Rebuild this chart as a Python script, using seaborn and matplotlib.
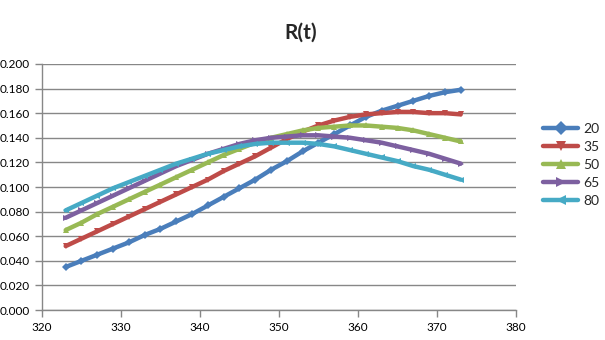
import matplotlib
matplotlib.use("Agg")
import matplotlib.pyplot as plt
import seaborn as sns
import pandas as pd

T = [323, 325, 327, 329, 331, 333, 335, 337, 339, 341, 343, 345, 347,
     349, 351, 353, 355, 357, 359, 361, 363, 365, 367, 369, 371, 373]

r20 = [.035, .040, .045, .050, .055, .061, .066, .072, .078, .085, .092, .099, .106,
       .114, .121, .129, .136, .143, .150, .157, .162, .166, .170, .174, .177, .179]
r35 = [.052, .058, .064, .070, .076, .082, .088, .094, .100, .106, .113, .119, .125,
       .132, .139, .145, .150, .154, .157, .159, .160, .161, .161, .160, .160, .159]
r50 = [.065, .071, .078, .084, .090, .096, .102, .108, .114, .120, .126, .131, .136,
       .140, .143, .146, .148, .149, .150, .150, .149, .148, .146, .143, .140, .137]
r65 = [.075, .081, .087, .093, .099, .105, .111, .117, .122, .127, .131, .135, .138,
       .140, .141, .142, .142, .141, .140, .138, .136, .133, .130, .127, .123, .119]
r80 = [.081, .087, .093, .099, .104, .109, .114, .119, .123, .127, .130, .133, .135,
       .136, .136, .136, .135, .133, .130, .127, .124, .121, .117, .114, .110, .106]

series_names = ["20", "35", "50", "65", "80"]
series_vals = [r20, r35, r50, r65, r80]
colors = ["#4A7EBB", "#BE4B48", "#98B954", "#7D60A0", "#46AAC5"]
marks = ["D", "v", "^", ">", "<"]

rows = []
for name, vals in zip(series_names, series_vals):
    for t, v in zip(T, vals):
        rows.append({"T": t, "R": v, "series": name})
df = pd.DataFrame(rows)

sns.set_theme(style="white")
plt.rcParams['font.family'] = ['Lato', 'DejaVu Sans']

fig = plt.figure(figsize=(6.05, 3.40), dpi=100)
ax = fig.add_axes([0.0694, 0.088, 0.7835, 0.724])

sns.lineplot(data=df, x="T", y="R", hue="series", style="series",
             palette=dict(zip(series_names, colors)),
             markers=dict(zip(series_names, marks)), dashes=False,
             linewidth=3.2, markersize=4, markeredgewidth=0, ax=ax)

ax.set_xlim(320, 380)
ax.set_ylim(0, 0.2)
ax.set_xticks(range(320, 381, 10))
ax.set_yticks([i * 0.02 for i in range(11)])
ax.set_yticklabels([f"{i*0.02:.3f}" for i in range(11)])
ax.yaxis.grid(True, color="#878787", linewidth=1)
ax.xaxis.grid(False)
ax.set_axisbelow(True)
for s in ["top", "right"]:
    ax.spines[s].set_visible(False)
for s in ["left", "bottom"]:
    ax.spines[s].set_color("#878787")
    ax.spines[s].set_linewidth(1)
ax.tick_params(axis="both", which="major", length=5, width=1, color="#878787",
               labelsize=8.5, labelcolor="#000000", direction="out",
               left=True, bottom=True)
ax.set_xlabel("")
ax.set_ylabel("")

fig.text(0.497, 0.905, "R(t)", ha="center", va="center", fontsize=15,
         fontweight="bold")

h, l = ax.get_legend_handles_labels()
for hh in h:
    hh.set_markersize(7)
    hh.set_linewidth(3.2)
ax.legend(h, l, loc="center left", bbox_to_anchor=(0.898, 0.515),
          bbox_transform=fig.transFigure, frameon=False, fontsize=10,
          handlelength=2.5, labelspacing=0.42, handletextpad=0.4,
          borderpad=0, borderaxespad=0)

fig.savefig("out.png", dpi=100)
